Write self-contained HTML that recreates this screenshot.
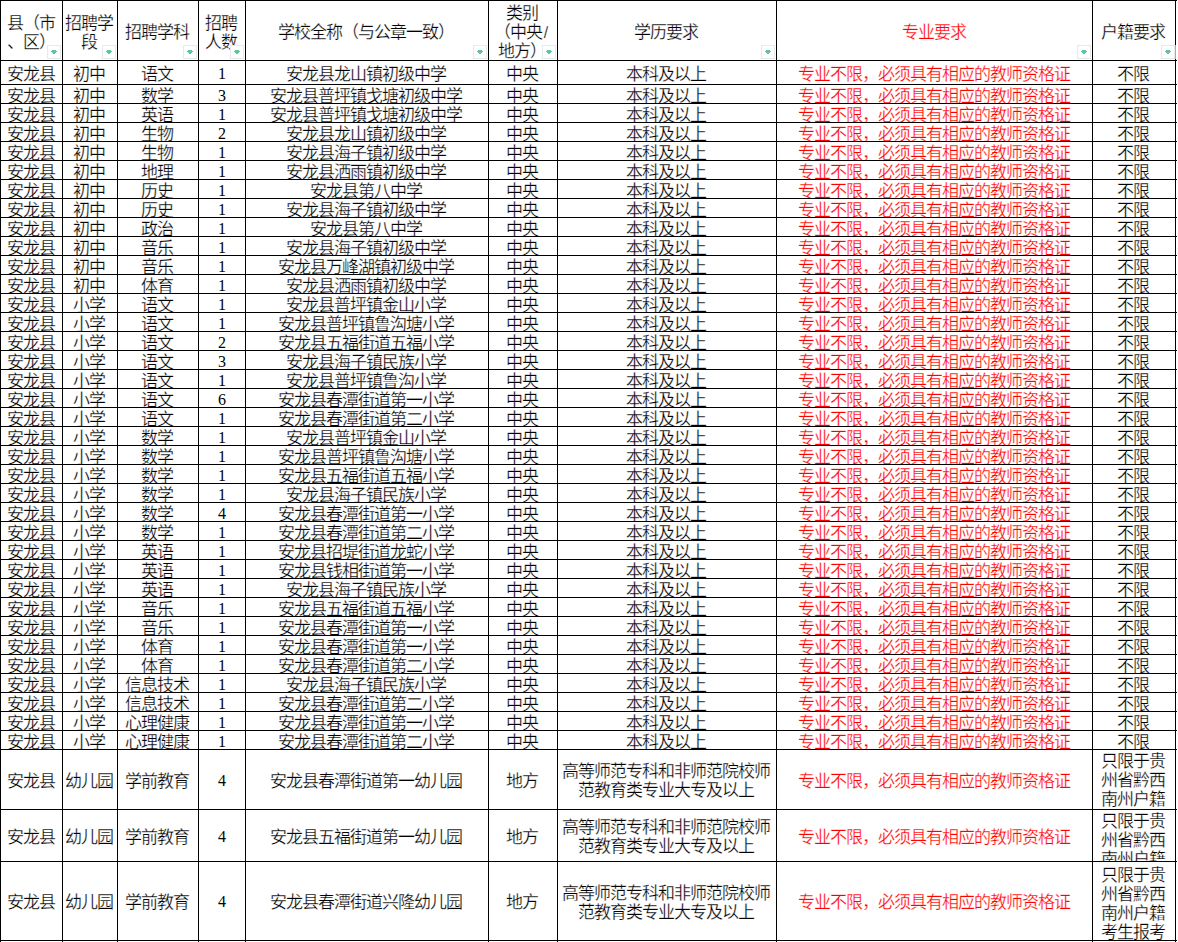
<!DOCTYPE html>
<html lang="zh-CN"><head><meta charset="utf-8"><style>
html,body{margin:0;padding:0;background:#fff;}
body{width:1178px;height:942px;position:relative;overflow:hidden;font-family:"Liberation Sans",sans-serif;font-size:16px;color:#000;}
.cl{position:absolute;overflow:hidden;}
.c{position:absolute;left:-1px;right:1px;text-align:center;white-space:nowrap;line-height:19px;font-size:17px;letter-spacing:-1px;-webkit-text-stroke:0.25px #fff;}
.r{color:#f00;}
.d{font-family:"Liberation Serif",serif;font-size:16px;letter-spacing:0;position:relative;left:1px;top:-1px;-webkit-text-stroke:0;}
.sl{display:inline-block;width:8px;text-align:center;letter-spacing:0;font-size:16px;}
.h{position:absolute;left:0;width:1177px;height:1px;background:#000;}
.v{position:absolute;top:0;width:1px;height:942px;background:#000;}
.dd{position:absolute;top:45px;width:12px;height:12px;border:1px solid #e5eaeb;background:#fff;}
.dd i{position:absolute;display:block;background:#5ec79b;height:1px;}
.dd .a{left:4px;top:4px;width:4px;}
.dd .b{left:3px;top:5px;width:6px;}
.dd .e{left:4px;top:6px;width:4px;}
.dd .f{left:5px;top:7px;width:2px;}
</style></head><body>
<div class="cl" style="left:1px;top:1px;width:61px;height:59px"><div class="c" style="top:12.5px">县（市<br>、区）</div></div>
<div class="cl" style="left:63px;top:1px;width:54px;height:59px"><div class="c" style="top:12.5px">招聘学<br>段</div></div>
<div class="cl" style="left:118px;top:1px;width:80px;height:59px"><div class="c" style="top:22.0px">招聘学科</div></div>
<div class="cl" style="left:199px;top:1px;width:46px;height:59px"><div class="c" style="top:12.5px">招聘<br>人数</div></div>
<div class="cl" style="left:246px;top:1px;width:242px;height:59px"><div class="c" style="top:22.0px">学校全称（与公章一致）</div></div>
<div class="cl" style="left:489px;top:1px;width:68px;height:59px"><div class="c" style="top:3.0px">类别<br>（中央<span class="sl">/</span><br>地方）</div></div>
<div class="cl" style="left:558px;top:1px;width:218px;height:59px"><div class="c" style="top:22.0px">学历要求</div></div>
<div class="cl" style="left:777px;top:1px;width:315px;height:59px"><div class="c r" style="top:22.0px">专业要求</div></div>
<div class="cl" style="left:1093px;top:1px;width:82px;height:59px"><div class="c" style="top:22.0px">户籍要求</div></div>
<div class="cl" style="left:1px;top:61px;width:61px;height:23px"><div class="c" style="top:3.5px">安龙县</div></div>
<div class="cl" style="left:63px;top:61px;width:54px;height:23px"><div class="c" style="top:3.5px">初中</div></div>
<div class="cl" style="left:118px;top:61px;width:80px;height:23px"><div class="c" style="top:3.5px">语文</div></div>
<div class="cl" style="left:199px;top:61px;width:46px;height:23px"><div class="c" style="top:3.5px"><span class="d">1</span></div></div>
<div class="cl" style="left:246px;top:61px;width:242px;height:23px"><div class="c" style="top:3.5px">安龙县龙山镇初级中学</div></div>
<div class="cl" style="left:489px;top:61px;width:68px;height:23px"><div class="c" style="top:3.5px">中央</div></div>
<div class="cl" style="left:558px;top:61px;width:218px;height:23px"><div class="c" style="top:3.5px">本科及以上</div></div>
<div class="cl" style="left:777px;top:61px;width:315px;height:23px"><div class="c r" style="top:3.5px">专业不限，必须具有相应的教师资格证</div></div>
<div class="cl" style="left:1093px;top:61px;width:82px;height:23px"><div class="c" style="top:3.5px">不限</div></div>
<div class="cl" style="left:1px;top:85px;width:61px;height:18px"><div class="c" style="top:1.5px">安龙县</div></div>
<div class="cl" style="left:63px;top:85px;width:54px;height:18px"><div class="c" style="top:1.5px">初中</div></div>
<div class="cl" style="left:118px;top:85px;width:80px;height:18px"><div class="c" style="top:1.5px">数学</div></div>
<div class="cl" style="left:199px;top:85px;width:46px;height:18px"><div class="c" style="top:1.5px"><span class="d">3</span></div></div>
<div class="cl" style="left:246px;top:85px;width:242px;height:18px"><div class="c" style="top:1.5px">安龙县普坪镇戈塘初级中学</div></div>
<div class="cl" style="left:489px;top:85px;width:68px;height:18px"><div class="c" style="top:1.5px">中央</div></div>
<div class="cl" style="left:558px;top:85px;width:218px;height:18px"><div class="c" style="top:1.5px">本科及以上</div></div>
<div class="cl" style="left:777px;top:85px;width:315px;height:18px"><div class="c r" style="top:1.5px">专业不限，必须具有相应的教师资格证</div></div>
<div class="cl" style="left:1093px;top:85px;width:82px;height:18px"><div class="c" style="top:1.5px">不限</div></div>
<div class="cl" style="left:1px;top:104px;width:61px;height:18px"><div class="c" style="top:1.5px">安龙县</div></div>
<div class="cl" style="left:63px;top:104px;width:54px;height:18px"><div class="c" style="top:1.5px">初中</div></div>
<div class="cl" style="left:118px;top:104px;width:80px;height:18px"><div class="c" style="top:1.5px">英语</div></div>
<div class="cl" style="left:199px;top:104px;width:46px;height:18px"><div class="c" style="top:1.5px"><span class="d">1</span></div></div>
<div class="cl" style="left:246px;top:104px;width:242px;height:18px"><div class="c" style="top:1.5px">安龙县普坪镇戈塘初级中学</div></div>
<div class="cl" style="left:489px;top:104px;width:68px;height:18px"><div class="c" style="top:1.5px">中央</div></div>
<div class="cl" style="left:558px;top:104px;width:218px;height:18px"><div class="c" style="top:1.5px">本科及以上</div></div>
<div class="cl" style="left:777px;top:104px;width:315px;height:18px"><div class="c r" style="top:1.5px">专业不限，必须具有相应的教师资格证</div></div>
<div class="cl" style="left:1093px;top:104px;width:82px;height:18px"><div class="c" style="top:1.5px">不限</div></div>
<div class="cl" style="left:1px;top:123px;width:61px;height:18px"><div class="c" style="top:1.5px">安龙县</div></div>
<div class="cl" style="left:63px;top:123px;width:54px;height:18px"><div class="c" style="top:1.5px">初中</div></div>
<div class="cl" style="left:118px;top:123px;width:80px;height:18px"><div class="c" style="top:1.5px">生物</div></div>
<div class="cl" style="left:199px;top:123px;width:46px;height:18px"><div class="c" style="top:1.5px"><span class="d">2</span></div></div>
<div class="cl" style="left:246px;top:123px;width:242px;height:18px"><div class="c" style="top:1.5px">安龙县龙山镇初级中学</div></div>
<div class="cl" style="left:489px;top:123px;width:68px;height:18px"><div class="c" style="top:1.5px">中央</div></div>
<div class="cl" style="left:558px;top:123px;width:218px;height:18px"><div class="c" style="top:1.5px">本科及以上</div></div>
<div class="cl" style="left:777px;top:123px;width:315px;height:18px"><div class="c r" style="top:1.5px">专业不限，必须具有相应的教师资格证</div></div>
<div class="cl" style="left:1093px;top:123px;width:82px;height:18px"><div class="c" style="top:1.5px">不限</div></div>
<div class="cl" style="left:1px;top:142px;width:61px;height:18px"><div class="c" style="top:1.5px">安龙县</div></div>
<div class="cl" style="left:63px;top:142px;width:54px;height:18px"><div class="c" style="top:1.5px">初中</div></div>
<div class="cl" style="left:118px;top:142px;width:80px;height:18px"><div class="c" style="top:1.5px">生物</div></div>
<div class="cl" style="left:199px;top:142px;width:46px;height:18px"><div class="c" style="top:1.5px"><span class="d">1</span></div></div>
<div class="cl" style="left:246px;top:142px;width:242px;height:18px"><div class="c" style="top:1.5px">安龙县海子镇初级中学</div></div>
<div class="cl" style="left:489px;top:142px;width:68px;height:18px"><div class="c" style="top:1.5px">中央</div></div>
<div class="cl" style="left:558px;top:142px;width:218px;height:18px"><div class="c" style="top:1.5px">本科及以上</div></div>
<div class="cl" style="left:777px;top:142px;width:315px;height:18px"><div class="c r" style="top:1.5px">专业不限，必须具有相应的教师资格证</div></div>
<div class="cl" style="left:1093px;top:142px;width:82px;height:18px"><div class="c" style="top:1.5px">不限</div></div>
<div class="cl" style="left:1px;top:161px;width:61px;height:18px"><div class="c" style="top:1.5px">安龙县</div></div>
<div class="cl" style="left:63px;top:161px;width:54px;height:18px"><div class="c" style="top:1.5px">初中</div></div>
<div class="cl" style="left:118px;top:161px;width:80px;height:18px"><div class="c" style="top:1.5px">地理</div></div>
<div class="cl" style="left:199px;top:161px;width:46px;height:18px"><div class="c" style="top:1.5px"><span class="d">1</span></div></div>
<div class="cl" style="left:246px;top:161px;width:242px;height:18px"><div class="c" style="top:1.5px">安龙县洒雨镇初级中学</div></div>
<div class="cl" style="left:489px;top:161px;width:68px;height:18px"><div class="c" style="top:1.5px">中央</div></div>
<div class="cl" style="left:558px;top:161px;width:218px;height:18px"><div class="c" style="top:1.5px">本科及以上</div></div>
<div class="cl" style="left:777px;top:161px;width:315px;height:18px"><div class="c r" style="top:1.5px">专业不限，必须具有相应的教师资格证</div></div>
<div class="cl" style="left:1093px;top:161px;width:82px;height:18px"><div class="c" style="top:1.5px">不限</div></div>
<div class="cl" style="left:1px;top:180px;width:61px;height:18px"><div class="c" style="top:1.5px">安龙县</div></div>
<div class="cl" style="left:63px;top:180px;width:54px;height:18px"><div class="c" style="top:1.5px">初中</div></div>
<div class="cl" style="left:118px;top:180px;width:80px;height:18px"><div class="c" style="top:1.5px">历史</div></div>
<div class="cl" style="left:199px;top:180px;width:46px;height:18px"><div class="c" style="top:1.5px"><span class="d">1</span></div></div>
<div class="cl" style="left:246px;top:180px;width:242px;height:18px"><div class="c" style="top:1.5px">安龙县第八中学</div></div>
<div class="cl" style="left:489px;top:180px;width:68px;height:18px"><div class="c" style="top:1.5px">中央</div></div>
<div class="cl" style="left:558px;top:180px;width:218px;height:18px"><div class="c" style="top:1.5px">本科及以上</div></div>
<div class="cl" style="left:777px;top:180px;width:315px;height:18px"><div class="c r" style="top:1.5px">专业不限，必须具有相应的教师资格证</div></div>
<div class="cl" style="left:1093px;top:180px;width:82px;height:18px"><div class="c" style="top:1.5px">不限</div></div>
<div class="cl" style="left:1px;top:199px;width:61px;height:18px"><div class="c" style="top:1.5px">安龙县</div></div>
<div class="cl" style="left:63px;top:199px;width:54px;height:18px"><div class="c" style="top:1.5px">初中</div></div>
<div class="cl" style="left:118px;top:199px;width:80px;height:18px"><div class="c" style="top:1.5px">历史</div></div>
<div class="cl" style="left:199px;top:199px;width:46px;height:18px"><div class="c" style="top:1.5px"><span class="d">1</span></div></div>
<div class="cl" style="left:246px;top:199px;width:242px;height:18px"><div class="c" style="top:1.5px">安龙县海子镇初级中学</div></div>
<div class="cl" style="left:489px;top:199px;width:68px;height:18px"><div class="c" style="top:1.5px">中央</div></div>
<div class="cl" style="left:558px;top:199px;width:218px;height:18px"><div class="c" style="top:1.5px">本科及以上</div></div>
<div class="cl" style="left:777px;top:199px;width:315px;height:18px"><div class="c r" style="top:1.5px">专业不限，必须具有相应的教师资格证</div></div>
<div class="cl" style="left:1093px;top:199px;width:82px;height:18px"><div class="c" style="top:1.5px">不限</div></div>
<div class="cl" style="left:1px;top:218px;width:61px;height:18px"><div class="c" style="top:1.5px">安龙县</div></div>
<div class="cl" style="left:63px;top:218px;width:54px;height:18px"><div class="c" style="top:1.5px">初中</div></div>
<div class="cl" style="left:118px;top:218px;width:80px;height:18px"><div class="c" style="top:1.5px">政治</div></div>
<div class="cl" style="left:199px;top:218px;width:46px;height:18px"><div class="c" style="top:1.5px"><span class="d">1</span></div></div>
<div class="cl" style="left:246px;top:218px;width:242px;height:18px"><div class="c" style="top:1.5px">安龙县第八中学</div></div>
<div class="cl" style="left:489px;top:218px;width:68px;height:18px"><div class="c" style="top:1.5px">中央</div></div>
<div class="cl" style="left:558px;top:218px;width:218px;height:18px"><div class="c" style="top:1.5px">本科及以上</div></div>
<div class="cl" style="left:777px;top:218px;width:315px;height:18px"><div class="c r" style="top:1.5px">专业不限，必须具有相应的教师资格证</div></div>
<div class="cl" style="left:1093px;top:218px;width:82px;height:18px"><div class="c" style="top:1.5px">不限</div></div>
<div class="cl" style="left:1px;top:237px;width:61px;height:18px"><div class="c" style="top:1.5px">安龙县</div></div>
<div class="cl" style="left:63px;top:237px;width:54px;height:18px"><div class="c" style="top:1.5px">初中</div></div>
<div class="cl" style="left:118px;top:237px;width:80px;height:18px"><div class="c" style="top:1.5px">音乐</div></div>
<div class="cl" style="left:199px;top:237px;width:46px;height:18px"><div class="c" style="top:1.5px"><span class="d">1</span></div></div>
<div class="cl" style="left:246px;top:237px;width:242px;height:18px"><div class="c" style="top:1.5px">安龙县海子镇初级中学</div></div>
<div class="cl" style="left:489px;top:237px;width:68px;height:18px"><div class="c" style="top:1.5px">中央</div></div>
<div class="cl" style="left:558px;top:237px;width:218px;height:18px"><div class="c" style="top:1.5px">本科及以上</div></div>
<div class="cl" style="left:777px;top:237px;width:315px;height:18px"><div class="c r" style="top:1.5px">专业不限，必须具有相应的教师资格证</div></div>
<div class="cl" style="left:1093px;top:237px;width:82px;height:18px"><div class="c" style="top:1.5px">不限</div></div>
<div class="cl" style="left:1px;top:256px;width:61px;height:18px"><div class="c" style="top:1.5px">安龙县</div></div>
<div class="cl" style="left:63px;top:256px;width:54px;height:18px"><div class="c" style="top:1.5px">初中</div></div>
<div class="cl" style="left:118px;top:256px;width:80px;height:18px"><div class="c" style="top:1.5px">音乐</div></div>
<div class="cl" style="left:199px;top:256px;width:46px;height:18px"><div class="c" style="top:1.5px"><span class="d">1</span></div></div>
<div class="cl" style="left:246px;top:256px;width:242px;height:18px"><div class="c" style="top:1.5px">安龙县万峰湖镇初级中学</div></div>
<div class="cl" style="left:489px;top:256px;width:68px;height:18px"><div class="c" style="top:1.5px">中央</div></div>
<div class="cl" style="left:558px;top:256px;width:218px;height:18px"><div class="c" style="top:1.5px">本科及以上</div></div>
<div class="cl" style="left:777px;top:256px;width:315px;height:18px"><div class="c r" style="top:1.5px">专业不限，必须具有相应的教师资格证</div></div>
<div class="cl" style="left:1093px;top:256px;width:82px;height:18px"><div class="c" style="top:1.5px">不限</div></div>
<div class="cl" style="left:1px;top:275px;width:61px;height:18px"><div class="c" style="top:1.5px">安龙县</div></div>
<div class="cl" style="left:63px;top:275px;width:54px;height:18px"><div class="c" style="top:1.5px">初中</div></div>
<div class="cl" style="left:118px;top:275px;width:80px;height:18px"><div class="c" style="top:1.5px">体育</div></div>
<div class="cl" style="left:199px;top:275px;width:46px;height:18px"><div class="c" style="top:1.5px"><span class="d">1</span></div></div>
<div class="cl" style="left:246px;top:275px;width:242px;height:18px"><div class="c" style="top:1.5px">安龙县洒雨镇初级中学</div></div>
<div class="cl" style="left:489px;top:275px;width:68px;height:18px"><div class="c" style="top:1.5px">中央</div></div>
<div class="cl" style="left:558px;top:275px;width:218px;height:18px"><div class="c" style="top:1.5px">本科及以上</div></div>
<div class="cl" style="left:777px;top:275px;width:315px;height:18px"><div class="c r" style="top:1.5px">专业不限，必须具有相应的教师资格证</div></div>
<div class="cl" style="left:1093px;top:275px;width:82px;height:18px"><div class="c" style="top:1.5px">不限</div></div>
<div class="cl" style="left:1px;top:294px;width:61px;height:18px"><div class="c" style="top:1.5px">安龙县</div></div>
<div class="cl" style="left:63px;top:294px;width:54px;height:18px"><div class="c" style="top:1.5px">小学</div></div>
<div class="cl" style="left:118px;top:294px;width:80px;height:18px"><div class="c" style="top:1.5px">语文</div></div>
<div class="cl" style="left:199px;top:294px;width:46px;height:18px"><div class="c" style="top:1.5px"><span class="d">1</span></div></div>
<div class="cl" style="left:246px;top:294px;width:242px;height:18px"><div class="c" style="top:1.5px">安龙县普坪镇金山小学</div></div>
<div class="cl" style="left:489px;top:294px;width:68px;height:18px"><div class="c" style="top:1.5px">中央</div></div>
<div class="cl" style="left:558px;top:294px;width:218px;height:18px"><div class="c" style="top:1.5px">本科及以上</div></div>
<div class="cl" style="left:777px;top:294px;width:315px;height:18px"><div class="c r" style="top:1.5px">专业不限，必须具有相应的教师资格证</div></div>
<div class="cl" style="left:1093px;top:294px;width:82px;height:18px"><div class="c" style="top:1.5px">不限</div></div>
<div class="cl" style="left:1px;top:313px;width:61px;height:18px"><div class="c" style="top:1.5px">安龙县</div></div>
<div class="cl" style="left:63px;top:313px;width:54px;height:18px"><div class="c" style="top:1.5px">小学</div></div>
<div class="cl" style="left:118px;top:313px;width:80px;height:18px"><div class="c" style="top:1.5px">语文</div></div>
<div class="cl" style="left:199px;top:313px;width:46px;height:18px"><div class="c" style="top:1.5px"><span class="d">1</span></div></div>
<div class="cl" style="left:246px;top:313px;width:242px;height:18px"><div class="c" style="top:1.5px">安龙县普坪镇鲁沟塘小学</div></div>
<div class="cl" style="left:489px;top:313px;width:68px;height:18px"><div class="c" style="top:1.5px">中央</div></div>
<div class="cl" style="left:558px;top:313px;width:218px;height:18px"><div class="c" style="top:1.5px">本科及以上</div></div>
<div class="cl" style="left:777px;top:313px;width:315px;height:18px"><div class="c r" style="top:1.5px">专业不限，必须具有相应的教师资格证</div></div>
<div class="cl" style="left:1093px;top:313px;width:82px;height:18px"><div class="c" style="top:1.5px">不限</div></div>
<div class="cl" style="left:1px;top:332px;width:61px;height:18px"><div class="c" style="top:1.5px">安龙县</div></div>
<div class="cl" style="left:63px;top:332px;width:54px;height:18px"><div class="c" style="top:1.5px">小学</div></div>
<div class="cl" style="left:118px;top:332px;width:80px;height:18px"><div class="c" style="top:1.5px">语文</div></div>
<div class="cl" style="left:199px;top:332px;width:46px;height:18px"><div class="c" style="top:1.5px"><span class="d">2</span></div></div>
<div class="cl" style="left:246px;top:332px;width:242px;height:18px"><div class="c" style="top:1.5px">安龙县五福街道五福小学</div></div>
<div class="cl" style="left:489px;top:332px;width:68px;height:18px"><div class="c" style="top:1.5px">中央</div></div>
<div class="cl" style="left:558px;top:332px;width:218px;height:18px"><div class="c" style="top:1.5px">本科及以上</div></div>
<div class="cl" style="left:777px;top:332px;width:315px;height:18px"><div class="c r" style="top:1.5px">专业不限，必须具有相应的教师资格证</div></div>
<div class="cl" style="left:1093px;top:332px;width:82px;height:18px"><div class="c" style="top:1.5px">不限</div></div>
<div class="cl" style="left:1px;top:351px;width:61px;height:18px"><div class="c" style="top:1.5px">安龙县</div></div>
<div class="cl" style="left:63px;top:351px;width:54px;height:18px"><div class="c" style="top:1.5px">小学</div></div>
<div class="cl" style="left:118px;top:351px;width:80px;height:18px"><div class="c" style="top:1.5px">语文</div></div>
<div class="cl" style="left:199px;top:351px;width:46px;height:18px"><div class="c" style="top:1.5px"><span class="d">3</span></div></div>
<div class="cl" style="left:246px;top:351px;width:242px;height:18px"><div class="c" style="top:1.5px">安龙县海子镇民族小学</div></div>
<div class="cl" style="left:489px;top:351px;width:68px;height:18px"><div class="c" style="top:1.5px">中央</div></div>
<div class="cl" style="left:558px;top:351px;width:218px;height:18px"><div class="c" style="top:1.5px">本科及以上</div></div>
<div class="cl" style="left:777px;top:351px;width:315px;height:18px"><div class="c r" style="top:1.5px">专业不限，必须具有相应的教师资格证</div></div>
<div class="cl" style="left:1093px;top:351px;width:82px;height:18px"><div class="c" style="top:1.5px">不限</div></div>
<div class="cl" style="left:1px;top:370px;width:61px;height:18px"><div class="c" style="top:1.5px">安龙县</div></div>
<div class="cl" style="left:63px;top:370px;width:54px;height:18px"><div class="c" style="top:1.5px">小学</div></div>
<div class="cl" style="left:118px;top:370px;width:80px;height:18px"><div class="c" style="top:1.5px">语文</div></div>
<div class="cl" style="left:199px;top:370px;width:46px;height:18px"><div class="c" style="top:1.5px"><span class="d">1</span></div></div>
<div class="cl" style="left:246px;top:370px;width:242px;height:18px"><div class="c" style="top:1.5px">安龙县普坪镇鲁沟小学</div></div>
<div class="cl" style="left:489px;top:370px;width:68px;height:18px"><div class="c" style="top:1.5px">中央</div></div>
<div class="cl" style="left:558px;top:370px;width:218px;height:18px"><div class="c" style="top:1.5px">本科及以上</div></div>
<div class="cl" style="left:777px;top:370px;width:315px;height:18px"><div class="c r" style="top:1.5px">专业不限，必须具有相应的教师资格证</div></div>
<div class="cl" style="left:1093px;top:370px;width:82px;height:18px"><div class="c" style="top:1.5px">不限</div></div>
<div class="cl" style="left:1px;top:389px;width:61px;height:18px"><div class="c" style="top:1.5px">安龙县</div></div>
<div class="cl" style="left:63px;top:389px;width:54px;height:18px"><div class="c" style="top:1.5px">小学</div></div>
<div class="cl" style="left:118px;top:389px;width:80px;height:18px"><div class="c" style="top:1.5px">语文</div></div>
<div class="cl" style="left:199px;top:389px;width:46px;height:18px"><div class="c" style="top:1.5px"><span class="d">6</span></div></div>
<div class="cl" style="left:246px;top:389px;width:242px;height:18px"><div class="c" style="top:1.5px">安龙县春潭街道第一小学</div></div>
<div class="cl" style="left:489px;top:389px;width:68px;height:18px"><div class="c" style="top:1.5px">中央</div></div>
<div class="cl" style="left:558px;top:389px;width:218px;height:18px"><div class="c" style="top:1.5px">本科及以上</div></div>
<div class="cl" style="left:777px;top:389px;width:315px;height:18px"><div class="c r" style="top:1.5px">专业不限，必须具有相应的教师资格证</div></div>
<div class="cl" style="left:1093px;top:389px;width:82px;height:18px"><div class="c" style="top:1.5px">不限</div></div>
<div class="cl" style="left:1px;top:408px;width:61px;height:18px"><div class="c" style="top:1.5px">安龙县</div></div>
<div class="cl" style="left:63px;top:408px;width:54px;height:18px"><div class="c" style="top:1.5px">小学</div></div>
<div class="cl" style="left:118px;top:408px;width:80px;height:18px"><div class="c" style="top:1.5px">语文</div></div>
<div class="cl" style="left:199px;top:408px;width:46px;height:18px"><div class="c" style="top:1.5px"><span class="d">1</span></div></div>
<div class="cl" style="left:246px;top:408px;width:242px;height:18px"><div class="c" style="top:1.5px">安龙县春潭街道第二小学</div></div>
<div class="cl" style="left:489px;top:408px;width:68px;height:18px"><div class="c" style="top:1.5px">中央</div></div>
<div class="cl" style="left:558px;top:408px;width:218px;height:18px"><div class="c" style="top:1.5px">本科及以上</div></div>
<div class="cl" style="left:777px;top:408px;width:315px;height:18px"><div class="c r" style="top:1.5px">专业不限，必须具有相应的教师资格证</div></div>
<div class="cl" style="left:1093px;top:408px;width:82px;height:18px"><div class="c" style="top:1.5px">不限</div></div>
<div class="cl" style="left:1px;top:427px;width:61px;height:18px"><div class="c" style="top:1.5px">安龙县</div></div>
<div class="cl" style="left:63px;top:427px;width:54px;height:18px"><div class="c" style="top:1.5px">小学</div></div>
<div class="cl" style="left:118px;top:427px;width:80px;height:18px"><div class="c" style="top:1.5px">数学</div></div>
<div class="cl" style="left:199px;top:427px;width:46px;height:18px"><div class="c" style="top:1.5px"><span class="d">1</span></div></div>
<div class="cl" style="left:246px;top:427px;width:242px;height:18px"><div class="c" style="top:1.5px">安龙县普坪镇金山小学</div></div>
<div class="cl" style="left:489px;top:427px;width:68px;height:18px"><div class="c" style="top:1.5px">中央</div></div>
<div class="cl" style="left:558px;top:427px;width:218px;height:18px"><div class="c" style="top:1.5px">本科及以上</div></div>
<div class="cl" style="left:777px;top:427px;width:315px;height:18px"><div class="c r" style="top:1.5px">专业不限，必须具有相应的教师资格证</div></div>
<div class="cl" style="left:1093px;top:427px;width:82px;height:18px"><div class="c" style="top:1.5px">不限</div></div>
<div class="cl" style="left:1px;top:446px;width:61px;height:18px"><div class="c" style="top:1.5px">安龙县</div></div>
<div class="cl" style="left:63px;top:446px;width:54px;height:18px"><div class="c" style="top:1.5px">小学</div></div>
<div class="cl" style="left:118px;top:446px;width:80px;height:18px"><div class="c" style="top:1.5px">数学</div></div>
<div class="cl" style="left:199px;top:446px;width:46px;height:18px"><div class="c" style="top:1.5px"><span class="d">1</span></div></div>
<div class="cl" style="left:246px;top:446px;width:242px;height:18px"><div class="c" style="top:1.5px">安龙县普坪镇鲁沟塘小学</div></div>
<div class="cl" style="left:489px;top:446px;width:68px;height:18px"><div class="c" style="top:1.5px">中央</div></div>
<div class="cl" style="left:558px;top:446px;width:218px;height:18px"><div class="c" style="top:1.5px">本科及以上</div></div>
<div class="cl" style="left:777px;top:446px;width:315px;height:18px"><div class="c r" style="top:1.5px">专业不限，必须具有相应的教师资格证</div></div>
<div class="cl" style="left:1093px;top:446px;width:82px;height:18px"><div class="c" style="top:1.5px">不限</div></div>
<div class="cl" style="left:1px;top:465px;width:61px;height:18px"><div class="c" style="top:1.5px">安龙县</div></div>
<div class="cl" style="left:63px;top:465px;width:54px;height:18px"><div class="c" style="top:1.5px">小学</div></div>
<div class="cl" style="left:118px;top:465px;width:80px;height:18px"><div class="c" style="top:1.5px">数学</div></div>
<div class="cl" style="left:199px;top:465px;width:46px;height:18px"><div class="c" style="top:1.5px"><span class="d">1</span></div></div>
<div class="cl" style="left:246px;top:465px;width:242px;height:18px"><div class="c" style="top:1.5px">安龙县五福街道五福小学</div></div>
<div class="cl" style="left:489px;top:465px;width:68px;height:18px"><div class="c" style="top:1.5px">中央</div></div>
<div class="cl" style="left:558px;top:465px;width:218px;height:18px"><div class="c" style="top:1.5px">本科及以上</div></div>
<div class="cl" style="left:777px;top:465px;width:315px;height:18px"><div class="c r" style="top:1.5px">专业不限，必须具有相应的教师资格证</div></div>
<div class="cl" style="left:1093px;top:465px;width:82px;height:18px"><div class="c" style="top:1.5px">不限</div></div>
<div class="cl" style="left:1px;top:484px;width:61px;height:18px"><div class="c" style="top:1.5px">安龙县</div></div>
<div class="cl" style="left:63px;top:484px;width:54px;height:18px"><div class="c" style="top:1.5px">小学</div></div>
<div class="cl" style="left:118px;top:484px;width:80px;height:18px"><div class="c" style="top:1.5px">数学</div></div>
<div class="cl" style="left:199px;top:484px;width:46px;height:18px"><div class="c" style="top:1.5px"><span class="d">1</span></div></div>
<div class="cl" style="left:246px;top:484px;width:242px;height:18px"><div class="c" style="top:1.5px">安龙县海子镇民族小学</div></div>
<div class="cl" style="left:489px;top:484px;width:68px;height:18px"><div class="c" style="top:1.5px">中央</div></div>
<div class="cl" style="left:558px;top:484px;width:218px;height:18px"><div class="c" style="top:1.5px">本科及以上</div></div>
<div class="cl" style="left:777px;top:484px;width:315px;height:18px"><div class="c r" style="top:1.5px">专业不限，必须具有相应的教师资格证</div></div>
<div class="cl" style="left:1093px;top:484px;width:82px;height:18px"><div class="c" style="top:1.5px">不限</div></div>
<div class="cl" style="left:1px;top:503px;width:61px;height:18px"><div class="c" style="top:1.5px">安龙县</div></div>
<div class="cl" style="left:63px;top:503px;width:54px;height:18px"><div class="c" style="top:1.5px">小学</div></div>
<div class="cl" style="left:118px;top:503px;width:80px;height:18px"><div class="c" style="top:1.5px">数学</div></div>
<div class="cl" style="left:199px;top:503px;width:46px;height:18px"><div class="c" style="top:1.5px"><span class="d">4</span></div></div>
<div class="cl" style="left:246px;top:503px;width:242px;height:18px"><div class="c" style="top:1.5px">安龙县春潭街道第一小学</div></div>
<div class="cl" style="left:489px;top:503px;width:68px;height:18px"><div class="c" style="top:1.5px">中央</div></div>
<div class="cl" style="left:558px;top:503px;width:218px;height:18px"><div class="c" style="top:1.5px">本科及以上</div></div>
<div class="cl" style="left:777px;top:503px;width:315px;height:18px"><div class="c r" style="top:1.5px">专业不限，必须具有相应的教师资格证</div></div>
<div class="cl" style="left:1093px;top:503px;width:82px;height:18px"><div class="c" style="top:1.5px">不限</div></div>
<div class="cl" style="left:1px;top:522px;width:61px;height:18px"><div class="c" style="top:1.5px">安龙县</div></div>
<div class="cl" style="left:63px;top:522px;width:54px;height:18px"><div class="c" style="top:1.5px">小学</div></div>
<div class="cl" style="left:118px;top:522px;width:80px;height:18px"><div class="c" style="top:1.5px">数学</div></div>
<div class="cl" style="left:199px;top:522px;width:46px;height:18px"><div class="c" style="top:1.5px"><span class="d">1</span></div></div>
<div class="cl" style="left:246px;top:522px;width:242px;height:18px"><div class="c" style="top:1.5px">安龙县春潭街道第二小学</div></div>
<div class="cl" style="left:489px;top:522px;width:68px;height:18px"><div class="c" style="top:1.5px">中央</div></div>
<div class="cl" style="left:558px;top:522px;width:218px;height:18px"><div class="c" style="top:1.5px">本科及以上</div></div>
<div class="cl" style="left:777px;top:522px;width:315px;height:18px"><div class="c r" style="top:1.5px">专业不限，必须具有相应的教师资格证</div></div>
<div class="cl" style="left:1093px;top:522px;width:82px;height:18px"><div class="c" style="top:1.5px">不限</div></div>
<div class="cl" style="left:1px;top:541px;width:61px;height:18px"><div class="c" style="top:1.5px">安龙县</div></div>
<div class="cl" style="left:63px;top:541px;width:54px;height:18px"><div class="c" style="top:1.5px">小学</div></div>
<div class="cl" style="left:118px;top:541px;width:80px;height:18px"><div class="c" style="top:1.5px">英语</div></div>
<div class="cl" style="left:199px;top:541px;width:46px;height:18px"><div class="c" style="top:1.5px"><span class="d">1</span></div></div>
<div class="cl" style="left:246px;top:541px;width:242px;height:18px"><div class="c" style="top:1.5px">安龙县招堤街道龙蛇小学</div></div>
<div class="cl" style="left:489px;top:541px;width:68px;height:18px"><div class="c" style="top:1.5px">中央</div></div>
<div class="cl" style="left:558px;top:541px;width:218px;height:18px"><div class="c" style="top:1.5px">本科及以上</div></div>
<div class="cl" style="left:777px;top:541px;width:315px;height:18px"><div class="c r" style="top:1.5px">专业不限，必须具有相应的教师资格证</div></div>
<div class="cl" style="left:1093px;top:541px;width:82px;height:18px"><div class="c" style="top:1.5px">不限</div></div>
<div class="cl" style="left:1px;top:560px;width:61px;height:18px"><div class="c" style="top:1.5px">安龙县</div></div>
<div class="cl" style="left:63px;top:560px;width:54px;height:18px"><div class="c" style="top:1.5px">小学</div></div>
<div class="cl" style="left:118px;top:560px;width:80px;height:18px"><div class="c" style="top:1.5px">英语</div></div>
<div class="cl" style="left:199px;top:560px;width:46px;height:18px"><div class="c" style="top:1.5px"><span class="d">1</span></div></div>
<div class="cl" style="left:246px;top:560px;width:242px;height:18px"><div class="c" style="top:1.5px">安龙县钱相街道第一小学</div></div>
<div class="cl" style="left:489px;top:560px;width:68px;height:18px"><div class="c" style="top:1.5px">中央</div></div>
<div class="cl" style="left:558px;top:560px;width:218px;height:18px"><div class="c" style="top:1.5px">本科及以上</div></div>
<div class="cl" style="left:777px;top:560px;width:315px;height:18px"><div class="c r" style="top:1.5px">专业不限，必须具有相应的教师资格证</div></div>
<div class="cl" style="left:1093px;top:560px;width:82px;height:18px"><div class="c" style="top:1.5px">不限</div></div>
<div class="cl" style="left:1px;top:579px;width:61px;height:18px"><div class="c" style="top:1.5px">安龙县</div></div>
<div class="cl" style="left:63px;top:579px;width:54px;height:18px"><div class="c" style="top:1.5px">小学</div></div>
<div class="cl" style="left:118px;top:579px;width:80px;height:18px"><div class="c" style="top:1.5px">英语</div></div>
<div class="cl" style="left:199px;top:579px;width:46px;height:18px"><div class="c" style="top:1.5px"><span class="d">1</span></div></div>
<div class="cl" style="left:246px;top:579px;width:242px;height:18px"><div class="c" style="top:1.5px">安龙县海子镇民族小学</div></div>
<div class="cl" style="left:489px;top:579px;width:68px;height:18px"><div class="c" style="top:1.5px">中央</div></div>
<div class="cl" style="left:558px;top:579px;width:218px;height:18px"><div class="c" style="top:1.5px">本科及以上</div></div>
<div class="cl" style="left:777px;top:579px;width:315px;height:18px"><div class="c r" style="top:1.5px">专业不限，必须具有相应的教师资格证</div></div>
<div class="cl" style="left:1093px;top:579px;width:82px;height:18px"><div class="c" style="top:1.5px">不限</div></div>
<div class="cl" style="left:1px;top:598px;width:61px;height:18px"><div class="c" style="top:1.5px">安龙县</div></div>
<div class="cl" style="left:63px;top:598px;width:54px;height:18px"><div class="c" style="top:1.5px">小学</div></div>
<div class="cl" style="left:118px;top:598px;width:80px;height:18px"><div class="c" style="top:1.5px">音乐</div></div>
<div class="cl" style="left:199px;top:598px;width:46px;height:18px"><div class="c" style="top:1.5px"><span class="d">1</span></div></div>
<div class="cl" style="left:246px;top:598px;width:242px;height:18px"><div class="c" style="top:1.5px">安龙县五福街道五福小学</div></div>
<div class="cl" style="left:489px;top:598px;width:68px;height:18px"><div class="c" style="top:1.5px">中央</div></div>
<div class="cl" style="left:558px;top:598px;width:218px;height:18px"><div class="c" style="top:1.5px">本科及以上</div></div>
<div class="cl" style="left:777px;top:598px;width:315px;height:18px"><div class="c r" style="top:1.5px">专业不限，必须具有相应的教师资格证</div></div>
<div class="cl" style="left:1093px;top:598px;width:82px;height:18px"><div class="c" style="top:1.5px">不限</div></div>
<div class="cl" style="left:1px;top:617px;width:61px;height:18px"><div class="c" style="top:1.5px">安龙县</div></div>
<div class="cl" style="left:63px;top:617px;width:54px;height:18px"><div class="c" style="top:1.5px">小学</div></div>
<div class="cl" style="left:118px;top:617px;width:80px;height:18px"><div class="c" style="top:1.5px">音乐</div></div>
<div class="cl" style="left:199px;top:617px;width:46px;height:18px"><div class="c" style="top:1.5px"><span class="d">1</span></div></div>
<div class="cl" style="left:246px;top:617px;width:242px;height:18px"><div class="c" style="top:1.5px">安龙县春潭街道第一小学</div></div>
<div class="cl" style="left:489px;top:617px;width:68px;height:18px"><div class="c" style="top:1.5px">中央</div></div>
<div class="cl" style="left:558px;top:617px;width:218px;height:18px"><div class="c" style="top:1.5px">本科及以上</div></div>
<div class="cl" style="left:777px;top:617px;width:315px;height:18px"><div class="c r" style="top:1.5px">专业不限，必须具有相应的教师资格证</div></div>
<div class="cl" style="left:1093px;top:617px;width:82px;height:18px"><div class="c" style="top:1.5px">不限</div></div>
<div class="cl" style="left:1px;top:636px;width:61px;height:18px"><div class="c" style="top:1.5px">安龙县</div></div>
<div class="cl" style="left:63px;top:636px;width:54px;height:18px"><div class="c" style="top:1.5px">小学</div></div>
<div class="cl" style="left:118px;top:636px;width:80px;height:18px"><div class="c" style="top:1.5px">体育</div></div>
<div class="cl" style="left:199px;top:636px;width:46px;height:18px"><div class="c" style="top:1.5px"><span class="d">1</span></div></div>
<div class="cl" style="left:246px;top:636px;width:242px;height:18px"><div class="c" style="top:1.5px">安龙县春潭街道第一小学</div></div>
<div class="cl" style="left:489px;top:636px;width:68px;height:18px"><div class="c" style="top:1.5px">中央</div></div>
<div class="cl" style="left:558px;top:636px;width:218px;height:18px"><div class="c" style="top:1.5px">本科及以上</div></div>
<div class="cl" style="left:777px;top:636px;width:315px;height:18px"><div class="c r" style="top:1.5px">专业不限，必须具有相应的教师资格证</div></div>
<div class="cl" style="left:1093px;top:636px;width:82px;height:18px"><div class="c" style="top:1.5px">不限</div></div>
<div class="cl" style="left:1px;top:655px;width:61px;height:18px"><div class="c" style="top:1.5px">安龙县</div></div>
<div class="cl" style="left:63px;top:655px;width:54px;height:18px"><div class="c" style="top:1.5px">小学</div></div>
<div class="cl" style="left:118px;top:655px;width:80px;height:18px"><div class="c" style="top:1.5px">体育</div></div>
<div class="cl" style="left:199px;top:655px;width:46px;height:18px"><div class="c" style="top:1.5px"><span class="d">1</span></div></div>
<div class="cl" style="left:246px;top:655px;width:242px;height:18px"><div class="c" style="top:1.5px">安龙县春潭街道第二小学</div></div>
<div class="cl" style="left:489px;top:655px;width:68px;height:18px"><div class="c" style="top:1.5px">中央</div></div>
<div class="cl" style="left:558px;top:655px;width:218px;height:18px"><div class="c" style="top:1.5px">本科及以上</div></div>
<div class="cl" style="left:777px;top:655px;width:315px;height:18px"><div class="c r" style="top:1.5px">专业不限，必须具有相应的教师资格证</div></div>
<div class="cl" style="left:1093px;top:655px;width:82px;height:18px"><div class="c" style="top:1.5px">不限</div></div>
<div class="cl" style="left:1px;top:674px;width:61px;height:18px"><div class="c" style="top:1.5px">安龙县</div></div>
<div class="cl" style="left:63px;top:674px;width:54px;height:18px"><div class="c" style="top:1.5px">小学</div></div>
<div class="cl" style="left:118px;top:674px;width:80px;height:18px"><div class="c" style="top:1.5px">信息技术</div></div>
<div class="cl" style="left:199px;top:674px;width:46px;height:18px"><div class="c" style="top:1.5px"><span class="d">1</span></div></div>
<div class="cl" style="left:246px;top:674px;width:242px;height:18px"><div class="c" style="top:1.5px">安龙县海子镇民族小学</div></div>
<div class="cl" style="left:489px;top:674px;width:68px;height:18px"><div class="c" style="top:1.5px">中央</div></div>
<div class="cl" style="left:558px;top:674px;width:218px;height:18px"><div class="c" style="top:1.5px">本科及以上</div></div>
<div class="cl" style="left:777px;top:674px;width:315px;height:18px"><div class="c r" style="top:1.5px">专业不限，必须具有相应的教师资格证</div></div>
<div class="cl" style="left:1093px;top:674px;width:82px;height:18px"><div class="c" style="top:1.5px">不限</div></div>
<div class="cl" style="left:1px;top:693px;width:61px;height:18px"><div class="c" style="top:1.5px">安龙县</div></div>
<div class="cl" style="left:63px;top:693px;width:54px;height:18px"><div class="c" style="top:1.5px">小学</div></div>
<div class="cl" style="left:118px;top:693px;width:80px;height:18px"><div class="c" style="top:1.5px">信息技术</div></div>
<div class="cl" style="left:199px;top:693px;width:46px;height:18px"><div class="c" style="top:1.5px"><span class="d">1</span></div></div>
<div class="cl" style="left:246px;top:693px;width:242px;height:18px"><div class="c" style="top:1.5px">安龙县春潭街道第二小学</div></div>
<div class="cl" style="left:489px;top:693px;width:68px;height:18px"><div class="c" style="top:1.5px">中央</div></div>
<div class="cl" style="left:558px;top:693px;width:218px;height:18px"><div class="c" style="top:1.5px">本科及以上</div></div>
<div class="cl" style="left:777px;top:693px;width:315px;height:18px"><div class="c r" style="top:1.5px">专业不限，必须具有相应的教师资格证</div></div>
<div class="cl" style="left:1093px;top:693px;width:82px;height:18px"><div class="c" style="top:1.5px">不限</div></div>
<div class="cl" style="left:1px;top:712px;width:61px;height:18px"><div class="c" style="top:1.5px">安龙县</div></div>
<div class="cl" style="left:63px;top:712px;width:54px;height:18px"><div class="c" style="top:1.5px">小学</div></div>
<div class="cl" style="left:118px;top:712px;width:80px;height:18px"><div class="c" style="top:1.5px">心理健康</div></div>
<div class="cl" style="left:199px;top:712px;width:46px;height:18px"><div class="c" style="top:1.5px"><span class="d">1</span></div></div>
<div class="cl" style="left:246px;top:712px;width:242px;height:18px"><div class="c" style="top:1.5px">安龙县春潭街道第一小学</div></div>
<div class="cl" style="left:489px;top:712px;width:68px;height:18px"><div class="c" style="top:1.5px">中央</div></div>
<div class="cl" style="left:558px;top:712px;width:218px;height:18px"><div class="c" style="top:1.5px">本科及以上</div></div>
<div class="cl" style="left:777px;top:712px;width:315px;height:18px"><div class="c r" style="top:1.5px">专业不限，必须具有相应的教师资格证</div></div>
<div class="cl" style="left:1093px;top:712px;width:82px;height:18px"><div class="c" style="top:1.5px">不限</div></div>
<div class="cl" style="left:1px;top:731px;width:61px;height:18px"><div class="c" style="top:1.5px">安龙县</div></div>
<div class="cl" style="left:63px;top:731px;width:54px;height:18px"><div class="c" style="top:1.5px">小学</div></div>
<div class="cl" style="left:118px;top:731px;width:80px;height:18px"><div class="c" style="top:1.5px">心理健康</div></div>
<div class="cl" style="left:199px;top:731px;width:46px;height:18px"><div class="c" style="top:1.5px"><span class="d">1</span></div></div>
<div class="cl" style="left:246px;top:731px;width:242px;height:18px"><div class="c" style="top:1.5px">安龙县春潭街道第二小学</div></div>
<div class="cl" style="left:489px;top:731px;width:68px;height:18px"><div class="c" style="top:1.5px">中央</div></div>
<div class="cl" style="left:558px;top:731px;width:218px;height:18px"><div class="c" style="top:1.5px">本科及以上</div></div>
<div class="cl" style="left:777px;top:731px;width:315px;height:18px"><div class="c r" style="top:1.5px">专业不限，必须具有相应的教师资格证</div></div>
<div class="cl" style="left:1093px;top:731px;width:82px;height:18px"><div class="c" style="top:1.5px">不限</div></div>
<div class="cl" style="left:1px;top:750px;width:61px;height:59px"><div class="c" style="top:21.5px">安龙县</div></div>
<div class="cl" style="left:63px;top:750px;width:54px;height:59px"><div class="c" style="top:21.5px">幼儿园</div></div>
<div class="cl" style="left:118px;top:750px;width:80px;height:59px"><div class="c" style="top:21.5px">学前教育</div></div>
<div class="cl" style="left:199px;top:750px;width:46px;height:59px"><div class="c" style="top:21.5px"><span class="d">4</span></div></div>
<div class="cl" style="left:246px;top:750px;width:242px;height:59px"><div class="c" style="top:21.5px">安龙县春潭街道第一幼儿园</div></div>
<div class="cl" style="left:489px;top:750px;width:68px;height:59px"><div class="c" style="top:21.5px">地方</div></div>
<div class="cl" style="left:558px;top:750px;width:218px;height:59px"><div class="c" style="top:12.0px">高等师范专科和非师范院校师<br>范教育类专业大专及以上</div></div>
<div class="cl" style="left:777px;top:750px;width:315px;height:59px"><div class="c r" style="top:21.5px">专业不限，必须具有相应的教师资格证</div></div>
<div class="cl" style="left:1093px;top:750px;width:82px;height:59px"><div class="c" style="top:1.5px">只限于贵<br>州省黔西<br>南州户籍<br>考生报考</div></div>
<div class="cl" style="left:1px;top:810px;width:61px;height:51px"><div class="c" style="top:17.5px">安龙县</div></div>
<div class="cl" style="left:63px;top:810px;width:54px;height:51px"><div class="c" style="top:17.5px">幼儿园</div></div>
<div class="cl" style="left:118px;top:810px;width:80px;height:51px"><div class="c" style="top:17.5px">学前教育</div></div>
<div class="cl" style="left:199px;top:810px;width:46px;height:51px"><div class="c" style="top:17.5px"><span class="d">4</span></div></div>
<div class="cl" style="left:246px;top:810px;width:242px;height:51px"><div class="c" style="top:17.5px">安龙县五福街道第一幼儿园</div></div>
<div class="cl" style="left:489px;top:810px;width:68px;height:51px"><div class="c" style="top:17.5px">地方</div></div>
<div class="cl" style="left:558px;top:810px;width:218px;height:51px"><div class="c" style="top:8.0px">高等师范专科和非师范院校师<br>范教育类专业大专及以上</div></div>
<div class="cl" style="left:777px;top:810px;width:315px;height:51px"><div class="c r" style="top:17.5px">专业不限，必须具有相应的教师资格证</div></div>
<div class="cl" style="left:1093px;top:810px;width:82px;height:51px"><div class="c" style="top:1.5px">只限于贵<br>州省黔西<br>南州户籍<br>考生报考</div></div>
<div class="cl" style="left:1px;top:862px;width:61px;height:78px"><div class="c" style="top:31.0px">安龙县</div></div>
<div class="cl" style="left:63px;top:862px;width:54px;height:78px"><div class="c" style="top:31.0px">幼儿园</div></div>
<div class="cl" style="left:118px;top:862px;width:80px;height:78px"><div class="c" style="top:31.0px">学前教育</div></div>
<div class="cl" style="left:199px;top:862px;width:46px;height:78px"><div class="c" style="top:31.0px"><span class="d">4</span></div></div>
<div class="cl" style="left:246px;top:862px;width:242px;height:78px"><div class="c" style="top:31.0px">安龙县春潭街道兴隆幼儿园</div></div>
<div class="cl" style="left:489px;top:862px;width:68px;height:78px"><div class="c" style="top:31.0px">地方</div></div>
<div class="cl" style="left:558px;top:862px;width:218px;height:78px"><div class="c" style="top:21.5px">高等师范专科和非师范院校师<br>范教育类专业大专及以上</div></div>
<div class="cl" style="left:777px;top:862px;width:315px;height:78px"><div class="c r" style="top:31.0px">专业不限，必须具有相应的教师资格证</div></div>
<div class="cl" style="left:1093px;top:862px;width:82px;height:78px"><div class="c" style="top:4.0px">只限于贵<br>州省黔西<br>南州户籍<br>考生报考</div></div>
<div class="h" style="top:0px"></div>
<div class="h" style="top:60px"></div>
<div class="h" style="top:84px"></div>
<div class="h" style="top:103px"></div>
<div class="h" style="top:122px"></div>
<div class="h" style="top:141px"></div>
<div class="h" style="top:160px"></div>
<div class="h" style="top:179px"></div>
<div class="h" style="top:198px"></div>
<div class="h" style="top:217px"></div>
<div class="h" style="top:236px"></div>
<div class="h" style="top:255px"></div>
<div class="h" style="top:274px"></div>
<div class="h" style="top:293px"></div>
<div class="h" style="top:312px"></div>
<div class="h" style="top:331px"></div>
<div class="h" style="top:350px"></div>
<div class="h" style="top:369px"></div>
<div class="h" style="top:388px"></div>
<div class="h" style="top:407px"></div>
<div class="h" style="top:426px"></div>
<div class="h" style="top:445px"></div>
<div class="h" style="top:464px"></div>
<div class="h" style="top:483px"></div>
<div class="h" style="top:502px"></div>
<div class="h" style="top:521px"></div>
<div class="h" style="top:540px"></div>
<div class="h" style="top:559px"></div>
<div class="h" style="top:578px"></div>
<div class="h" style="top:597px"></div>
<div class="h" style="top:616px"></div>
<div class="h" style="top:635px"></div>
<div class="h" style="top:654px"></div>
<div class="h" style="top:673px"></div>
<div class="h" style="top:692px"></div>
<div class="h" style="top:711px"></div>
<div class="h" style="top:730px"></div>
<div class="h" style="top:749px"></div>
<div class="h" style="top:809px"></div>
<div class="h" style="top:861px"></div>
<div class="h" style="top:940px"></div>
<div class="v" style="left:0px"></div>
<div class="v" style="left:62px"></div>
<div class="v" style="left:117px"></div>
<div class="v" style="left:198px"></div>
<div class="v" style="left:245px"></div>
<div class="v" style="left:488px"></div>
<div class="v" style="left:557px"></div>
<div class="v" style="left:776px"></div>
<div class="v" style="left:1092px"></div>
<div class="v" style="left:1175px"></div>
<div class="dd" style="left:47px"><i class="a"></i><i class="b"></i><i class="e"></i><i class="f"></i></div>
<div class="dd" style="left:102px"><i class="a"></i><i class="b"></i><i class="e"></i><i class="f"></i></div>
<div class="dd" style="left:183px"><i class="a"></i><i class="b"></i><i class="e"></i><i class="f"></i></div>
<div class="dd" style="left:230px"><i class="a"></i><i class="b"></i><i class="e"></i><i class="f"></i></div>
<div class="dd" style="left:473px"><i class="a"></i><i class="b"></i><i class="e"></i><i class="f"></i></div>
<div class="dd" style="left:542px"><i class="a"></i><i class="b"></i><i class="e"></i><i class="f"></i></div>
<div class="dd" style="left:761px"><i class="a"></i><i class="b"></i><i class="e"></i><i class="f"></i></div>
<div class="dd" style="left:1077px"><i class="a"></i><i class="b"></i><i class="e"></i><i class="f"></i></div>
<div class="dd" style="left:1161px"><i class="a"></i><i class="b"></i><i class="e"></i><i class="f"></i></div>
<div style="position:absolute;left:1175px;top:45px;width:1px;height:14px;background:#6dcca1"></div>
</body></html>
